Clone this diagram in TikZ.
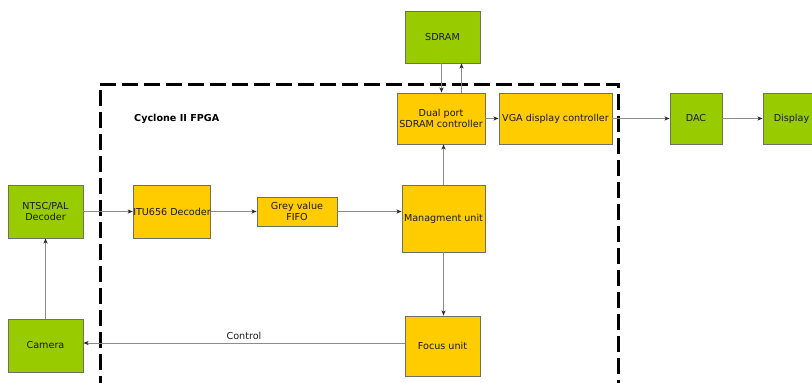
\documentclass[tikz,border=0pt]{standalone}
\usepackage{fontspec}
\setmainfont{DejaVu Sans}
\usetikzlibrary{arrows.meta}
\definecolor{hwgreen}{RGB}{153,204,0}
\definecolor{fpgayellow}{RGB}{255,204,0}
\definecolor{boxline}{RGB}{112,112,96}
\definecolor{wirecol}{RGB}{140,140,140}
\definecolor{tipcol}{RGB}{40,40,40}
\begin{document}
\begin{tikzpicture}[x=1pt,y=-1pt,
  font=\fontsize{9.6}{11.5}\selectfont,
  blk/.style={draw=boxline, line width=0.9pt, inner sep=0pt, align=center, text=black!90},
  hw/.style={blk, fill=hwgreen},
  fp/.style={blk, fill=fpgayellow},
  wire/.style={draw=wirecol, line width=0.9pt, -{Stealth[length=5pt,width=4pt,inset=1.2pt,color=tipcol,fill=tipcol]}},
  fpgabox/.style={draw=black, line width=3pt, dash pattern=on 16pt off 6pt, inner sep=0pt}
]
\useasboundingbox (0,0) rectangle (812,383);
% FPGA region
\node[fpgabox, minimum width=518pt, minimum height=300pt] (fpga) at (359,234) {};
\node[anchor=west, font=\fontsize{9.6}{11.5}\selectfont\bfseries] (lbl) at (130.7,119) {Cyclone II FPGA};
% blocks
\node[hw, minimum width=75pt, minimum height=52pt] (sdram) at (442.5,37) {SDRAM};
\node[fp, minimum width=88pt, minimum height=51pt] (dual) at (441,118.5) {Dual port\\SDRAM controller};
\node[fp, minimum width=113pt, minimum height=51pt] (vga) at (555.5,118.5) {VGA display controller};
\node[hw, minimum width=52pt, minimum height=51pt] (dac) at (696,118.5) {DAC};
\node[hw, minimum width=57pt, minimum height=51pt] (disp) at (791.5,118.5) {Display};
\node[hw, minimum width=75pt, minimum height=53pt] (ntsc) at (45.5,211.5) {NTSC/PAL\\Decoder};
\node[fp, minimum width=76pt, minimum height=53pt] (itu) at (172,211.5) {ITU656 Decoder};
\node[fp, minimum width=80pt, minimum height=29pt] (fifo) at (297,211.5) {Grey value\\FIFO};
\node[fp, minimum width=83pt, minimum height=67pt] (mgmt) at (443.5,218.5) {Managment unit};
\node[fp, minimum width=75pt, minimum height=60pt] (focus) at (442.5,346) {Focus unit};
\node[hw, minimum width=75pt, minimum height=53pt] (cam) at (45.5,345.5) {Camera};
% connectors
\draw[wire] (ntsc.east) -- (itu.west);
\draw[wire] (itu.east) -- (fifo.west);
\draw[wire] (fifo.east) -- (fifo.east -| mgmt.west);
\draw[wire] (mgmt.north) -- (mgmt.north |- dual.south);
\draw[wire] (mgmt.south) -- (mgmt.south |- focus.north);
\draw[wire] ([yshift=3pt]focus.west) -- ([yshift=3pt]focus.west -| cam.east)
  node[midway, above=-0.5pt, text=black!90] (ctl) {Control};
\draw[wire] (cam.north) -- (ntsc.south);
\draw[wire] ([xshift=-1pt]sdram.south) -- ([xshift=-1pt]sdram.south |- dual.north);
\draw[wire] ([xshift=19pt]sdram.south |- dual.north) -- ([xshift=19pt]sdram.south);
\draw[wire] (dual.east) -- (vga.west);
\draw[wire] (vga.east) -- (dac.west);
\draw[wire] (dac.east) -- (disp.west);
\end{tikzpicture}
\end{document}
